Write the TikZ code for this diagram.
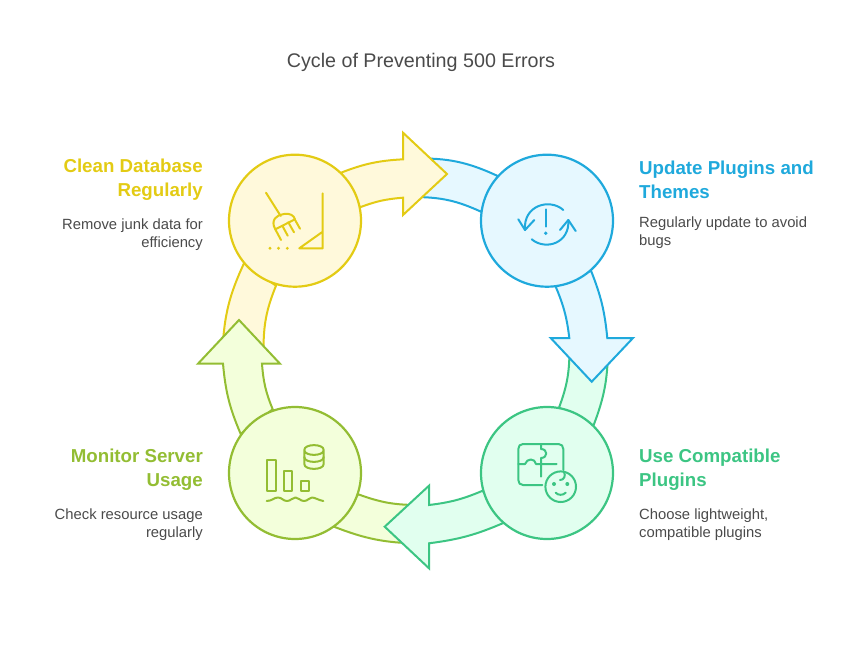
\documentclass[tikz,border=0pt]{standalone}
\usepackage{fontspec}
\setmainfont{Liberation Sans}
\usetikzlibrary{positioning}
\definecolor{yellowline}{HTML}{E3CB14}
\definecolor{yellowfill}{HTML}{FFF9DB}
\definecolor{blueline}{HTML}{1FA9DC}
\definecolor{bluefill}{HTML}{E6F8FF}
\definecolor{greenline}{HTML}{3CC583}
\definecolor{greenfill}{HTML}{E1FFEF}
\definecolor{limeline}{HTML}{93BD33}
\definecolor{limefill}{HTML}{F3FFDB}
\definecolor{bodygray}{HTML}{4A4A4A}
\tikzset{
  band/.style={line width=2pt,line join=miter,draw=#1line,fill=#1fill},
  hub/.style={circle,minimum size=132pt,inner sep=0pt,line width=2.2pt,draw=#1line,fill=#1fill},
  glyph/.style={line width=2pt,draw=#1line,line cap=round,line join=round},
  head/.style={font=\fontsize{18.7}{24}\selectfont\bfseries,text=#1line,align=left,inner sep=0pt},
  body/.style={font=\fontsize{14.8}{18}\selectfont,text=bodygray,align=left,inner sep=0pt},
}
\begin{document}
\begin{tikzpicture}[x=1pt,y=-1pt]
  \useasboundingbox (0,0) rectangle (854,653);

  \draw[band=blue] (415,158.5) to[bend left=13] (497.7,176) -- (481,211.7) to[bend right=12] (415,197) -- cycle;
  \draw[band=green] (569.5,350) to[bend left=10] (559,407.7) -- (593.3,426) to[bend right=10] (608,350) -- cycle;
  \draw[band=lime] (418,505) to[bend left=10] (358.3,494.3) -- (334,526.7) to[bend right=10] (418,543.5) -- cycle;
  \draw[band=yellow] (222.5,350) to[bend left=11] (244,263.3) -- (276,285.7) to[bend right=11] (263.5,350) -- cycle;

  \draw[band=yellow] (341,172.7) to[bend left=9] (403,159.3) -- (403,132.7) -- (447,174) -- (403,215) -- (403,197.7) to[bend right=8] (360,207.3) -- cycle;
  \draw[band=blue] (591,270.7) to[bend left=8] (607.3,338) -- (633,338) -- (591.7,381.7) -- (550.7,338) -- (569.3,338) to[bend right=8] (555.7,286.7) -- cycle;
  \draw[band=green] (504,522.7) to[bend left=8] (429,543.3) -- (429,568.3) -- (384.7,526.7) -- (429,485.7) -- (429,505) to[bend right=8] (482.7,490.7) -- cycle;
  \draw[band=lime] (240.7,434) to[bend left=9] (223,363.7) -- (198,363.7) -- (239,320) -- (280,363.7) -- (262,363.7) to[bend right=9] (272.7,409.3) -- cycle;

  \node[hub=yellow] (clean) at (295,220.7) {};
  \node[hub=blue] (update) at (547,220.7) {};
  \node[hub=green] (compat) at (547,473) {};
  \node[hub=lime] (monitor) at (295,473) {};

  \draw[glyph=yellow] (266,192.7) -- (280.7,216);
  \draw[glyph=yellow] (275.3,229.3) .. controls (270,220) and (277,214.5) .. (284,214) .. controls (290,213) and (294,215.5) .. (295,219.3) -- cycle;
  \draw[glyph=yellow] (275.3,229.3) -- (281,240) (282.3,225.7) -- (287.7,235.7) (288.3,222.3) -- (294,232.3) (294.7,219.3) -- (300,228.7);
  \draw[glyph=yellow] (322.7,193.3) -- (322.7,248.3) -- (299.3,248.3) -- (322.7,231.7);
  \foreach \dotx in {270,278.5,287.3}
    \fill[yellowline] (\dotx,248.3) circle (1.6);

  \draw[glyph=blue] (563.3,210) .. controls (550,198) and (523,205) .. (525,230);
  \draw[glyph=blue] (518.3,219.3) -- (525,230) -- (534.3,220);
  \draw[glyph=blue] (531.7,239.3) .. controls (546,251) and (570,243) .. (568.3,220);
  \draw[glyph=blue] (560,230) -- (568.3,220) -- (575.7,231);
  \draw[glyph=blue] (545.7,209.3) -- (545.7,226.7);
  \fill[blueline] (545.7,233.3) circle (1.9);

  \draw[glyph=green] (542.3,485) -- (523,485) .. controls (520,485) and (518.3,483) .. (518.3,480) -- (518.3,449) .. controls (518.3,446) and (520,444) .. (523,444) -- (558.5,444) .. controls (561.5,444) and (563.3,446) .. (563.3,449) -- (563.3,470);
  \draw[glyph=green] (518.3,464) -- (525,464) .. controls (527,458) and (535,458) .. (536,464) -- (556.7,464);
  \draw[glyph=green] (541,444) -- (541,449) .. controls (548,449) and (548,458) .. (541,458) -- (541,476.7);
  \draw[glyph=green] (560.7,486.7) circle (15.3);
  \draw[glyph=green] (564,471.7) .. controls (566,476) and (564,480) .. (560,480);
  \draw[glyph=green] (555.7,492.7) .. controls (558,495.5) and (563,495.5) .. (565.7,492.7);
  \fill[greenline] (554,484) circle (2) (567.3,484) circle (2);

  \draw[glyph=lime] (266.7,460) rectangle (275.7,491);
  \draw[glyph=lime] (283.7,471) rectangle (292.3,491);
  \draw[glyph=lime] (300.7,481) rectangle (309.3,491);
  \draw[glyph=lime] (266.7,501) .. controls (272,501) and (274,497.5) .. (278,497.5) .. controls (282,497.5) and (283,501) .. (287,501) .. controls (291,501) and (292,497.5) .. (295.5,497.5) .. controls (299,497.5) and (300,501) .. (304,501) .. controls (308,501) and (309,497.5) .. (312,497.5) .. controls (315,497.5) and (318,500) .. (323.3,501);
  \draw[glyph=lime] (304.3,450) .. controls (304.3,443.5) and (323.7,443.5) .. (323.7,450) .. controls (323.7,456.5) and (304.3,456.5) .. (304.3,450) -- (304.3,464) .. controls (304.3,470.5) and (323.7,470.5) .. (323.7,464) -- (323.7,450);
  \draw[glyph=lime] (304.3,457) .. controls (304.3,463.5) and (323.7,463.5) .. (323.7,457);

  \node[font=\fontsize{19.7}{24}\selectfont,text=bodygray,inner sep=0pt] (title) at (421,62.5) {Cycle of Preventing 500 Errors};

  \node[head=yellow,align=right,anchor=east] (cleanhead) at (203,180) {Clean Database\\Regularly};
  \node[body,align=right,below=18pt of cleanhead.south east,anchor=north east] (cleanbody) {Remove junk data for\\efficiency};
  \node[head=blue,anchor=west] (updatehead) at (639,180) {Update Plugins and\\Themes};
  \node[body,below=18pt of updatehead.south west,anchor=north west] (updatebody) {Regularly update to avoid\\bugs};
  \node[head=green,anchor=west] (compathead) at (639,470) {Use Compatible\\Plugins};
  \node[body,below=18pt of compathead.south west,anchor=north west] (compatbody) {Choose lightweight,\\compatible plugins};
  \node[head=lime,align=right,anchor=east] (monitorhead) at (203,470) {Monitor Server\\Usage};
  \node[body,align=right,below=18pt of monitorhead.south east,anchor=north east] (monitorbody) {Check resource usage\\regularly};
\end{tikzpicture}
\end{document}
